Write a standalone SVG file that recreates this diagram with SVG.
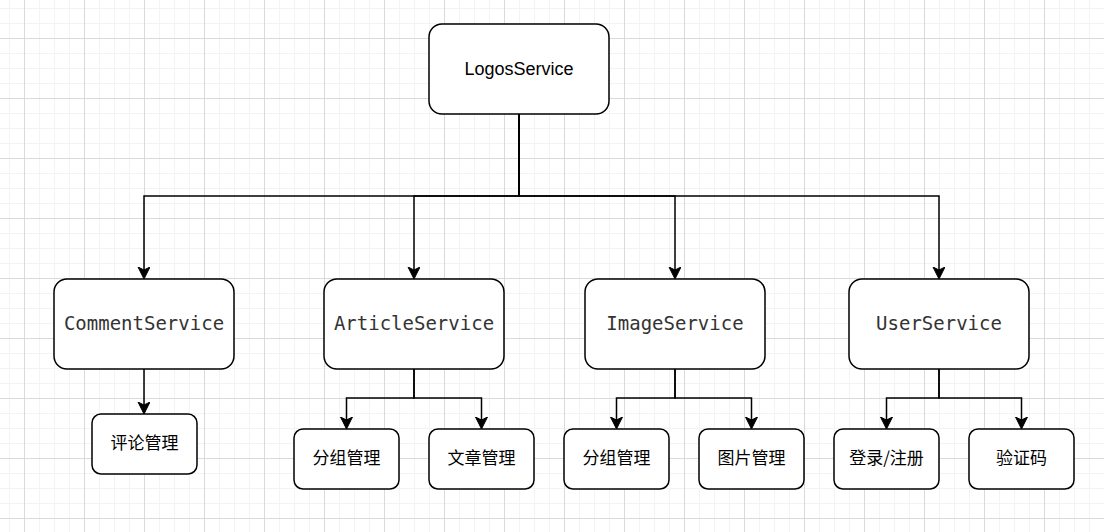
<svg xmlns="http://www.w3.org/2000/svg" width="1104" height="532" viewBox="0 0 1104 532">
<style>
.box{fill:#ffffff;stroke:#000000;stroke-width:1.5}
.edge{fill:none;stroke:#000000;stroke-width:1.5;marker-end:url(#arr)}
.sans{font-family:"Liberation Sans",Arial,sans-serif;font-size:18px;fill:#000000;text-anchor:middle}
.mono{font-family:"DejaVu Sans Mono","Liberation Mono",monospace;font-size:19px;fill:#333333;text-anchor:middle}
.cjk{font-family:"Noto Sans CJK SC","Noto Sans",sans-serif;font-size:17px;fill:#000000;text-anchor:middle}
</style>
<defs>
<pattern id="grid" patternUnits="userSpaceOnUse" x="24" y="38" width="60" height="60">
<rect x="15" y="0" width="1" height="60" fill="#f3f3f3"/>
<rect x="30" y="0" width="1" height="60" fill="#f3f3f3"/>
<rect x="45" y="0" width="1" height="60" fill="#f3f3f3"/>
<rect x="0" y="15" width="60" height="1" fill="#f3f3f3"/>
<rect x="0" y="30" width="60" height="1" fill="#f3f3f3"/>
<rect x="0" y="45" width="60" height="1" fill="#f3f3f3"/>
<rect x="0" y="0" width="1" height="60" fill="#dadada"/>
<rect x="0" y="0" width="60" height="1" fill="#dadada"/>
</pattern>
<marker id="arr" markerUnits="userSpaceOnUse" markerWidth="14" markerHeight="14" refX="6" refY="6" orient="auto">
<path d="M0,0 L12,6 L0,12 L3,6 Z" fill="#000000" stroke="#000000" stroke-width="1"/>
</marker>
</defs>
<rect x="0" y="0" width="1104" height="532" fill="#ffffff"/>
<rect x="0" y="0" width="1104" height="532" fill="url(#grid)"/>

<g id="connectors">
<path class="edge" d="M519,114 V196 H144 V273"/>
<path class="edge" d="M519,114 V196 H414 V273"/>
<path class="edge" d="M519,114 V196 H675 V273"/>
<path class="edge" d="M519,114 V196 H939 V273"/>
<path class="edge" d="M144,369 V408"/>
<path class="edge" d="M414,369 V398 H346.5 V423"/>
<path class="edge" d="M414,369 V398 H481.5 V423"/>
<path class="edge" d="M675,369 V398 H616.5 V423"/>
<path class="edge" d="M675,369 V398 H751.5 V423"/>
<path class="edge" d="M939,369 V398 H886.5 V423"/>
<path class="edge" d="M939,369 V398 H1021.5 V423"/>
</g>

<g id="logos"><rect class="box" x="429" y="24" width="180" height="90" rx="13"/><text class="sans" x="519" y="75">LogosService</text></g>
<g id="comment"><rect class="box" x="54" y="279" width="180" height="90" rx="13"/><text class="mono" x="144" y="330">CommentService</text></g>
<g id="article"><rect class="box" x="324" y="279" width="180" height="90" rx="13"/><text class="mono" x="414" y="330">ArticleService</text></g>
<g id="image"><rect class="box" x="585" y="279" width="180" height="90" rx="13"/><text class="mono" x="675" y="330">ImageService</text></g>
<g id="user"><rect class="box" x="849" y="279" width="180" height="90" rx="13"/><text class="mono" x="939" y="330">UserService</text></g>

<g id="comment-manage"><rect class="box" x="92" y="414" width="105" height="60" rx="9"/><text class="cjk" x="144.5" y="449">评论管理</text></g>
<g id="article-group"><rect class="box" x="294" y="429" width="105" height="60" rx="9"/><text class="cjk" x="346.5" y="464">分组管理</text></g>
<g id="article-manage"><rect class="box" x="429" y="429" width="105" height="60" rx="9"/><text class="cjk" x="481.5" y="464">文章管理</text></g>
<g id="image-group"><rect class="box" x="564" y="429" width="105" height="60" rx="9"/><text class="cjk" x="616.5" y="464">分组管理</text></g>
<g id="image-manage"><rect class="box" x="699" y="429" width="105" height="60" rx="9"/><text class="cjk" x="751.5" y="464">图片管理</text></g>
<g id="user-login"><rect class="box" x="834" y="429" width="105" height="60" rx="9"/><text class="cjk" x="886.5" y="464">登录/注册</text></g>
<g id="user-captcha"><rect class="box" x="969" y="429" width="105" height="60" rx="9"/><text class="cjk" x="1021.5" y="464">验证码</text></g>
</svg>
